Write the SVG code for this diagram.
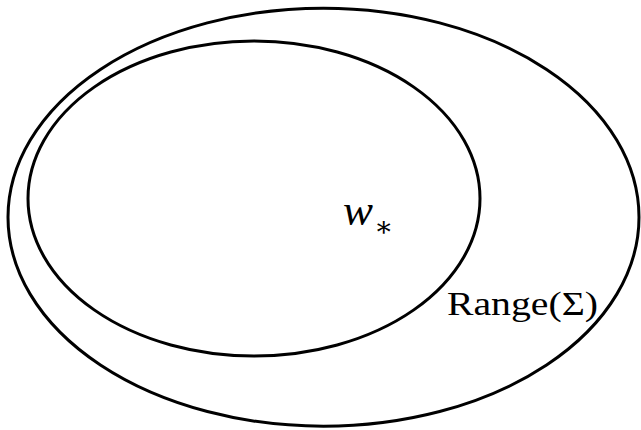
<svg xmlns="http://www.w3.org/2000/svg" width="641" height="430" viewBox="0 0 641 430">
<style>
.e{fill:none;stroke:#000;stroke-width:3}
.t{font-family:"Liberation Serif","DejaVu Serif",serif;fill:#000}
</style>
<rect width="641" height="430" fill="#fff"/>
<g id="range">
<ellipse class="e" cx="323.5" cy="217.2" rx="315.5" ry="209"/>
<text class="t" x="447" y="315" font-size="34" textLength="151" lengthAdjust="spacingAndGlyphs">Range(Σ)</text>
</g>
<g id="inner">
<ellipse class="e" cx="254" cy="198.5" rx="226" ry="157.5"/>
<text class="t" x="343" y="225" font-size="44" font-style="italic" textLength="30" lengthAdjust="spacingAndGlyphs">w</text>
<text class="t" x="374" y="236" font-size="28">∗</text>
</g>
<g id="connectors"></g>
</svg>
